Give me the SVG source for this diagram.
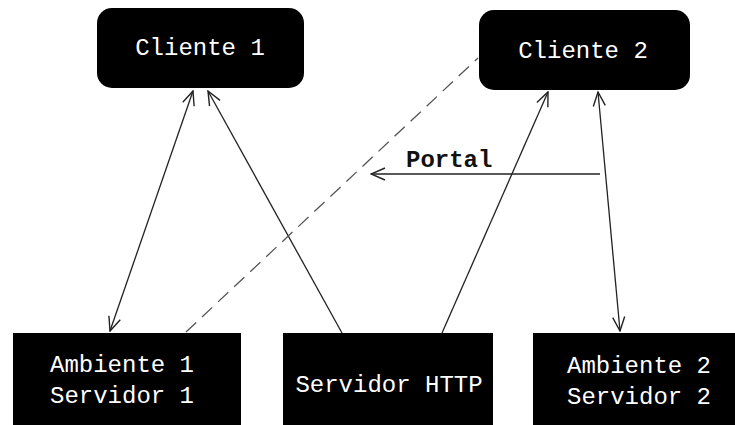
<svg xmlns="http://www.w3.org/2000/svg" width="735" height="425" viewBox="0 0 735 425">
<style>
.box{fill:#000;}
.lbl{fill:#fff;font-family:"Liberation Mono","DejaVu Sans Mono",monospace;font-size:24px;text-anchor:middle;}
.ln{stroke:#222;stroke-width:1.3;fill:none;}
.dash{stroke-dasharray:14 8;stroke:#555;}
.portal{font-family:"Liberation Mono","DejaVu Sans Mono",monospace;font-size:24px;font-weight:bold;fill:#111;}
</style>
<defs>
<marker id="ah" viewBox="0 0 16 14" refX="15" refY="7" markerWidth="16" markerHeight="14" markerUnits="userSpaceOnUse" orient="auto-start-reverse">
<path d="M1,1 L15,7 L1,13" fill="none" stroke="#222" stroke-width="1.4"/>
</marker>
</defs>
<rect width="735" height="425" fill="#fff"/>
<g id="cliente1"><rect class="box" x="97" y="8" width="207" height="80" rx="15"/><text class="lbl" x="200" y="55">Cliente 1</text></g>
<g id="cliente2"><rect class="box" x="479" y="10" width="211" height="80" rx="15"/><text class="lbl" x="583" y="58">Cliente 2</text></g>
<g id="ambiente1"><rect class="box" x="13" y="333" width="228" height="95"/><text class="lbl" x="122" y="372">Ambiente 1</text><text class="lbl" x="122" y="403">Servidor 1</text></g>
<g id="servidorhttp"><rect class="box" x="283" y="333" width="210" height="95"/><text class="lbl" x="389" y="392">Servidor HTTP</text></g>
<g id="ambiente2"><rect class="box" x="533" y="333" width="205" height="95"/><text class="lbl" x="639" y="373">Ambiente 2</text><text class="lbl" x="639" y="404">Servidor 2</text></g>
<g id="connectors">
<line class="ln" x1="110" y1="331" x2="193" y2="91" marker-start="url(#ah)" marker-end="url(#ah)"/>
<line class="ln" x1="342" y1="333" x2="208" y2="91" marker-end="url(#ah)"/>
<line class="ln dash" x1="186" y1="332" x2="478" y2="58"/>
<line class="ln" x1="442" y1="333" x2="548" y2="92" marker-end="url(#ah)"/>
<line class="ln" x1="598" y1="92" x2="620" y2="331" marker-start="url(#ah)" marker-end="url(#ah)"/>
<line class="ln" x1="600" y1="174" x2="371" y2="174" marker-end="url(#ah)"/>
<text class="portal" x="406" y="167">Portal</text>
</g>
</svg>
